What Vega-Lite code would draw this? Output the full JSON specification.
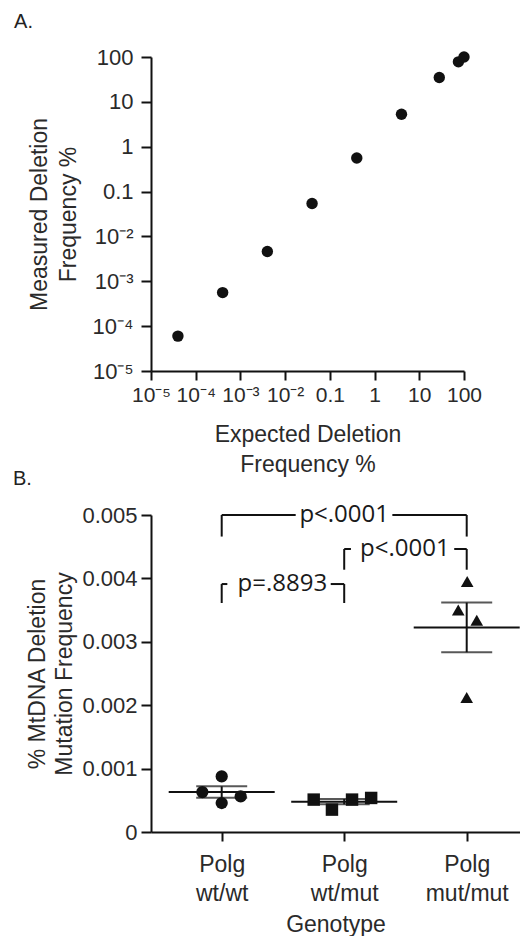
{
  "$schema": "https://vega.github.io/schema/vega-lite/v6.json",
  "padding": {"left": 12, "top": 12, "right": 0, "bottom": 0},
  "background": "white",
  "spacing": -7,
  "config": {
    "font": "Liberation Sans",
    "view": {"stroke": null},
    "axis": {
      "grid": false,
      "domainColor": "#111",
      "domainWidth": 2,
      "tickColor": "#111",
      "tickWidth": 2,
      "tickSize": 9,
      "labelColor": "#2a2a2a",
      "titleColor": "#2a2a2a",
      "labelFontSize": 22,
      "titleFontSize": 23,
      "titleFontWeight": "normal",
      "titleLineHeight": 29,
      "labelFlush": false,
      "labelOverlap": false
    },
    "title": {"fontSize": 20, "fontWeight": "normal", "anchor": "start", "frame": "bounds", "color": "#222"}
  },
  "vconcat": [
    {
      "width": 313,
      "height": 314,
      "title": {"text": "A.", "dx": -14, "offset": 14},
      "data": {"values": [
        {"expected": 0.00004, "measured": 0.00006},
        {"expected": 0.0004, "measured": 0.00056},
        {"expected": 0.004, "measured": 0.0046},
        {"expected": 0.04, "measured": 0.054},
        {"expected": 0.4, "measured": 0.56},
        {"expected": 4, "measured": 5.3},
        {"expected": 28, "measured": 35},
        {"expected": 75, "measured": 78},
        {"expected": 100, "measured": 100}
      ]},
      "mark": {"type": "point", "filled": true, "color": "#111", "opacity": 1, "size": 130},
      "encoding": {
        "x": {"field": "expected", "type": "quantitative",
          "scale": {"type": "log", "domain": [0.00001, 100], "nice": false},
          "axis": {"values": [0.00001, 0.0001, 0.001, 0.01, 0.1, 1, 10, 100],
            "labelExpr": "datum.value < 0.05 ? '10' + ['⁰','⁻¹','⁻²','⁻³','⁻⁴','⁻⁵'][round(-log(datum.value)/LN10)] : format(datum.value, '~g')",
            "labelFontSize": 21, "labelPadding": 4, "tickSize": 9,
            "title": ["Expected Deletion", "Frequency %"], "titlePadding": 18, "titleLineHeight": 30}},
        "y": {"field": "measured", "type": "quantitative",
          "scale": {"type": "log", "domain": [0.00001, 100], "nice": false},
          "axis": {"values": [0.00001, 0.0001, 0.001, 0.01, 0.1, 1, 10, 100],
            "labelExpr": "datum.value < 0.05 ? '10' + ['⁰','⁻¹','⁻²','⁻³','⁻⁴','⁻⁵'][round(-log(datum.value)/LN10)] : format(datum.value, '~g')",
            "labelPadding": 8, "tickSize": 10,
            "title": ["Measured Deletion", "Frequency %"], "titlePadding": 12}}
      }
    },
    {
      "width": 369,
      "height": 317,
      "title": {"text": "B.", "dx": -14, "offset": 14},
      "data": {"values": [
        {"genotype": "Polg wt/wt", "g": 1, "x": 0.842, "y": 0.00063},
        {"genotype": "Polg wt/wt", "g": 1, "x": 1.0, "y": 0.000877},
        {"genotype": "Polg wt/wt", "g": 1, "x": 1.0, "y": 0.000457},
        {"genotype": "Polg wt/wt", "g": 1, "x": 1.155, "y": 0.000561},
        {"genotype": "Polg wt/mut", "g": 2, "x": 1.751, "y": 0.000511},
        {"genotype": "Polg wt/mut", "g": 2, "x": 1.9, "y": 0.000353},
        {"genotype": "Polg wt/mut", "g": 2, "x": 2.064, "y": 0.000511},
        {"genotype": "Polg wt/mut", "g": 2, "x": 2.22, "y": 0.000537},
        {"genotype": "Polg mut/mut", "g": 3, "x": 3.004, "y": 0.00395},
        {"genotype": "Polg mut/mut", "g": 3, "x": 2.931, "y": 0.0035},
        {"genotype": "Polg mut/mut", "g": 3, "x": 3.082, "y": 0.00334},
        {"genotype": "Polg mut/mut", "g": 3, "x": 3.0, "y": 0.00212}
      ]},
      "layer": [
        {
          "mark": {"type": "point", "filled": true, "opacity": 1, "color": "#111"},
          "encoding": {
            "x": {"field": "x", "type": "quantitative", "title": "Genotype",
              "scale": {"domain": [0.4229, 3.435], "nice": false, "zero": false},
              "axis": {"values": [1, 2, 3],
                "labelExpr": "datum.value == 1 ? ['Polg', 'wt/wt'] : datum.value == 2 ? ['Polg', 'wt/mut'] : ['Polg', 'mut/mut']",
                "labelFontSize": 23, "labelLineHeight": 29, "labelPadding": 12, "tickSize": 9,
                "titlePadding": 8}},
            "y": {"field": "y", "type": "quantitative", "title": ["% MtDNA Deletion", "Mutation Frequency"],
              "scale": {"domain": [0, 0.005], "nice": false},
              "axis": {"values": [0, 0.001, 0.002, 0.003, 0.004, 0.005],
                "labelExpr": "datum.value == 0 ? '0' : format(datum.value, '.3f')",
                "labelPadding": 4, "tickSize": 10,
                "titlePadding": 5, "titleLineHeight": 27}},
            "shape": {"field": "genotype", "type": "nominal",
              "scale": {"domain": ["Polg wt/wt", "Polg wt/mut", "Polg mut/mut"], "range": ["circle", "square", "triangle-up"]},
              "legend": null},
            "size": {"field": "genotype", "type": "nominal",
              "scale": {"domain": ["Polg wt/wt", "Polg wt/mut", "Polg mut/mut"], "range": [150, 160, 190]},
              "legend": null}
          }
        },
        {
          "mark": {"type": "tick", "orient": "horizontal", "size": 106, "thickness": 2, "color": "#111"},
          "encoding": {
            "x": {"field": "g", "type": "quantitative", "title": "Genotype"},
            "y": {"aggregate": "mean", "field": "y", "type": "quantitative", "title": ["% MtDNA Deletion", "Mutation Frequency"]}
          }
        },
        {
          "mark": {"type": "errorbar", "extent": "stderr", "orient": "vertical", "color": "#111",
            "ticks": {"size": 51, "thickness": 2}, "rule": {"strokeWidth": 2}},
          "encoding": {
            "x": {"field": "g", "type": "quantitative", "title": "Genotype"},
            "y": {"field": "y", "type": "quantitative", "title": ["% MtDNA Deletion", "Mutation Frequency"]}
          }
        },
        {
          "data": {"values": [
            {"xa": 1.0, "xb": 1.0, "ya": 0.00466, "yb": 0.005},
            {"xa": 1.0, "xb": 1.604, "ya": 0.005, "yb": 0.005},
            {"xa": 2.393, "xb": 3.0, "ya": 0.005, "yb": 0.005},
            {"xa": 3.0, "xb": 3.0, "ya": 0.00466, "yb": 0.005},
            {"xa": 2.0, "xb": 2.0, "ya": 0.004137, "yb": 0.004464},
            {"xa": 2.0, "xb": 2.055, "ya": 0.004464, "yb": 0.004464},
            {"xa": 2.898, "xb": 3.0, "ya": 0.004464, "yb": 0.004464},
            {"xa": 3.0, "xb": 3.0, "ya": 0.004137, "yb": 0.004464},
            {"xa": 1.0, "xb": 1.0, "ya": 0.003612, "yb": 0.003911},
            {"xa": 1.0, "xb": 1.046, "ya": 0.003911, "yb": 0.003911},
            {"xa": 1.89, "xb": 2.0, "ya": 0.003911, "yb": 0.003911},
            {"xa": 2.0, "xb": 2.0, "ya": 0.003612, "yb": 0.003911}
          ]},
          "mark": {"type": "rule", "strokeWidth": 2, "color": "#111"},
          "encoding": {
            "x": {"field": "xa", "type": "quantitative", "title": "Genotype"},
            "x2": {"field": "xb"},
            "y": {"field": "ya", "type": "quantitative", "title": ["% MtDNA Deletion", "Mutation Frequency"]},
            "y2": {"field": "yb"}
          }
        },
        {
          "data": {"values": [
            {"xa": 2.0, "ya": 0.005, "label": "p<.0001"},
            {"xa": 2.495, "ya": 0.004464, "label": "p<.0001"},
            {"xa": 1.495, "ya": 0.003911, "label": "p=.8893"}
          ]},
          "mark": {"type": "text", "font": "Open Sans", "fontSize": 24, "color": "#1a1a1a", "baseline": "middle", "align": "center"},
          "encoding": {
            "x": {"field": "xa", "type": "quantitative", "title": "Genotype"},
            "y": {"field": "ya", "type": "quantitative", "title": ["% MtDNA Deletion", "Mutation Frequency"]},
            "text": {"field": "label"}
          }
        }
      ]
    }
  ]
}
